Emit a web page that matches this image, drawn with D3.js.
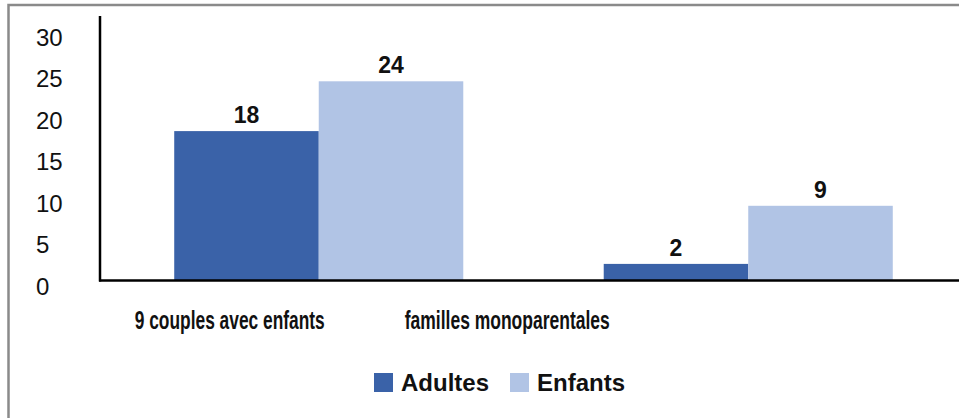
<!DOCTYPE html>
<html>
<head>
<meta charset="utf-8">
<script src="https://cdn.jsdelivr.net/npm/d3@7"></script>
<style>
  html, body { margin: 0; padding: 0; background: #fff; }
  svg { display: block; font-family: "Liberation Sans", Arial, sans-serif; }
</style>
</head>
<body>
<svg id="chart" width="959" height="418"></svg>
<script>
// Household composition: adults and children per family type
const categories = ["9 couples avec enfants", "familles monoparentales"];
const seriesNames = ["Adultes", "Enfants"];
const adultes = [18, 2];
const enfants = [24, 9];
const yTicks = [0, 5, 10, 15, 20, 25, 30];

const colors = { Adultes: "#3A62A8", Enfants: "#B1C4E5" };
const values = { Adultes: adultes, Enfants: enfants };

const rows = categories.map((c, i) => ({
  category: c,
  items: seriesNames.map(s => ({ series: s, value: values[s][i] }))
}));

const svg = d3.select("#chart");
const W = 959, H = 418;

// outer frame (top and left edges)
svg.append("path")
  .attr("d", `M8.5,${H} L8.5,5 L${W},5`)
  .attr("fill", "none")
  .attr("stroke", "#8a8a8a")
  .attr("stroke-width", 2.5);

const plotLeft = 100, baseline = 280.5;

const x0 = d3.scaleBand()
  .domain(categories)
  .range([104, 963])
  .paddingInner(0.327)
  .paddingOuter(0.1635);

const x1 = d3.scaleBand()
  .domain(seriesNames)
  .range([0, x0.bandwidth()]);

const y = d3.scaleLinear()
  .domain([0, 30])
  .range([baseline, baseline - 249]);

// value axis labels (no ticks or line), left aligned
const yAxis = d3.axisLeft(y).tickValues(yTicks).tickSize(0).tickPadding(0);
const gy = svg.append("g").attr("transform", "translate(36,6)").call(yAxis);
gy.select(".domain").remove();
gy.selectAll("text")
  .attr("text-anchor", "start")
  .attr("x", 0)
  .attr("font-family", "Liberation Sans, Arial, sans-serif")
  .attr("font-size", 24)
  .attr("fill", "#111");

// bars
const groups = svg.append("g").selectAll("g")
  .data(rows)
  .join("g")
  .attr("transform", d => `translate(${x0(d.category)},0)`);

groups.selectAll("rect")
  .data(d => d.items)
  .join("rect")
  .attr("x", d => x1(d.series))
  .attr("width", x1.bandwidth())
  .attr("y", d => y(d.value))
  .attr("height", d => baseline - y(d.value))
  .attr("fill", d => colors[d.series]);

// value labels
groups.selectAll("text")
  .data(d => d.items)
  .join("text")
  .attr("x", d => x1(d.series) + x1.bandwidth() / 2)
  .attr("y", d => y(d.value) - 8)
  .attr("text-anchor", "middle")
  .attr("font-weight", "bold")
  .attr("font-size", 23)
  .attr("fill", "#111")
  .text(d => d.value);

// axis lines
svg.append("line")
  .attr("x1", plotLeft).attr("x2", plotLeft)
  .attr("y1", 16).attr("y2", baseline + 1)
  .attr("stroke", "#000").attr("stroke-width", 2.5);
svg.append("line")
  .attr("x1", plotLeft - 1).attr("x2", W)
  .attr("y1", baseline).attr("y2", baseline)
  .attr("stroke", "#000").attr("stroke-width", 2.5);

// category labels (narrow bold face)
const catShift = [89, 241];
const catWidth = [190, 205];
svg.append("g").selectAll("text")
  .data(categories)
  .join("text")
  .attr("x", (c, i) => x0(c) + x0.bandwidth() / 2 - catShift[i] - catWidth[i] / 2)
  .attr("y", 329)
  .attr("textLength", (c, i) => catWidth[i])
  .attr("lengthAdjust", "spacingAndGlyphs")
  .attr("font-weight", "bold")
  .attr("font-size", 25)
  .attr("fill", "#111")
  .text(c => c);

// legend
const legendItems = [
  { name: "Adultes", x: 374 },
  { name: "Enfants", x: 510 }
];
const lg = svg.append("g").selectAll("g")
  .data(legendItems)
  .join("g")
  .attr("transform", d => `translate(${d.x},373)`);
lg.append("rect")
  .attr("width", 19).attr("height", 19)
  .attr("fill", d => colors[d.name]);
lg.append("text")
  .attr("x", 27).attr("y", 18)
  .attr("font-weight", "bold")
  .attr("font-size", 24)
  .attr("fill", "#111")
  .text(d => d.name);
</script>
</body>
</html>
